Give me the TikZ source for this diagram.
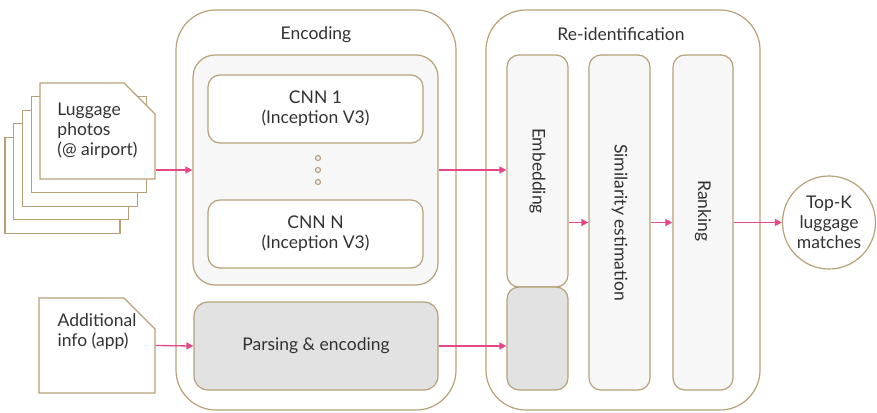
\documentclass[tikz,border=0pt]{standalone}
\usepackage{fontspec}
\setmainfont{Lato}
\usetikzlibrary{arrows.meta,shapes.misc}
\definecolor{boxline}{RGB}{184,160,120}
\definecolor{flowpink}{RGB}{228,72,135}
\definecolor{lightfill}{RGB}{247,247,247}
\definecolor{grayfill}{RGB}{226,226,226}
\definecolor{textgray}{RGB}{50,50,50}
\begin{document}
\begin{tikzpicture}[x=1pt,y=-1pt,
    every node/.style={font=\fontsize{17.5}{20}\selectfont,text=textgray},
    stage/.style={draw=boxline,line width=1.2pt,fill=white,rounded corners=40pt,inner sep=0pt},
    block/.style={draw=boxline,line width=1.2pt,fill=lightfill,rounded corners=12pt,inner sep=0pt,align=center},
    grayblock/.style={block,fill=grayfill},
    page/.style={draw=boxline,line width=1.2pt,fill=white,inner sep=0pt,minimum width=115pt,minimum height=96pt},
    doc/.style={page,chamfered rectangle,chamfered rectangle corners=north east,
      chamfered rectangle xsep=16pt,chamfered rectangle ysep=15pt},
    flow/.style={draw=flowpink,line width=1.3pt,-{Triangle[length=7pt,width=7pt]}}]
  \useasboundingbox (0,0) rectangle (877,412);
  % stages
  \node[stage,minimum width=280pt,minimum height=400pt] (enc) at (316,210) {};
  \node[stage,minimum width=274pt,minimum height=400pt] (reid) at (623,210) {};
  \node (enctitle) at (316,35) {Encoding};
  \node (reidtitle) at (621,34) {Re-identification};
  % inputs
  \foreach \i in {4,3,2,1}
    \node[page] (page\i) at (97.5-8.75*\i,131+13.6*\i) {};
  \node[doc,align=left] (page0) at (97.5,131) {Luggage\\photos\\(@ airport)};
  \node[doc,align=left,text depth=31pt,minimum width=116pt,minimum height=95pt] (info) at (97,345.5) {Additional\\info (app)};
  % encoding
  \node[block,rounded corners=22pt,minimum width=245pt,minimum height=230pt] (cnns) at (315.5,170) {};
  \node[block,fill=white,minimum width=215pt,minimum height=68pt] (cnn1) at (315.5,109) {CNN 1\\(Inception V3)};
  \node[block,fill=white,minimum width=215pt,minimum height=68pt] (cnnN) at (315.5,234) {CNN N\\(Inception V3)};
  \foreach \y in {158,170,182}
    \draw[boxline,line width=1.2pt] (318,\y) circle (2.5pt);
  \node[grayblock,rounded corners=14pt,minimum width=244pt,minimum height=88pt] (parse) at (316,346) {Parsing \& encoding};
  % re-identification
  \node[block,minimum width=61pt,minimum height=232pt] (embed) at (537.5,171) {};
  \node[rotate=-90] (embedtext) at (embed.center) {Embedding};
  \node[grayblock,minimum width=61pt,minimum height=103pt] (embgray) at (537.5,338.5) {};
  \node[block,minimum width=61pt,minimum height=335pt] (sim) at (619.5,222.5) {};
  \node[rotate=-90] (simtext) at (sim.center) {Similarity estimation};
  \node[block,minimum width=60pt,minimum height=335pt] (rank) at (703,222.5) {};
  \node[rotate=-90] (ranktext) at (703,211) {Ranking};
  \node[circle,draw=boxline,line width=1.2pt,fill=white,minimum size=93pt,inner sep=0pt,align=center] (topk) at (829,222.5) {Top-K\\luggage\\matches};
  % arrows
  \draw[flow] (cnns.west -| page0.east) -- (cnns.west);
  \draw[flow] (info.east) -- (parse.west);
  \draw[flow] (cnns.east) -- (cnns.east -| embed.west);
  \draw[flow] (parse.east) -- (parse.east -| embgray.west);
  \draw[flow] (sim.west -| embed.east) -- (sim.west);
  \draw[flow] (sim.east) -- (rank.west);
  \draw[flow] (rank.east) -- (topk.west);
\end{tikzpicture}
\end{document}
